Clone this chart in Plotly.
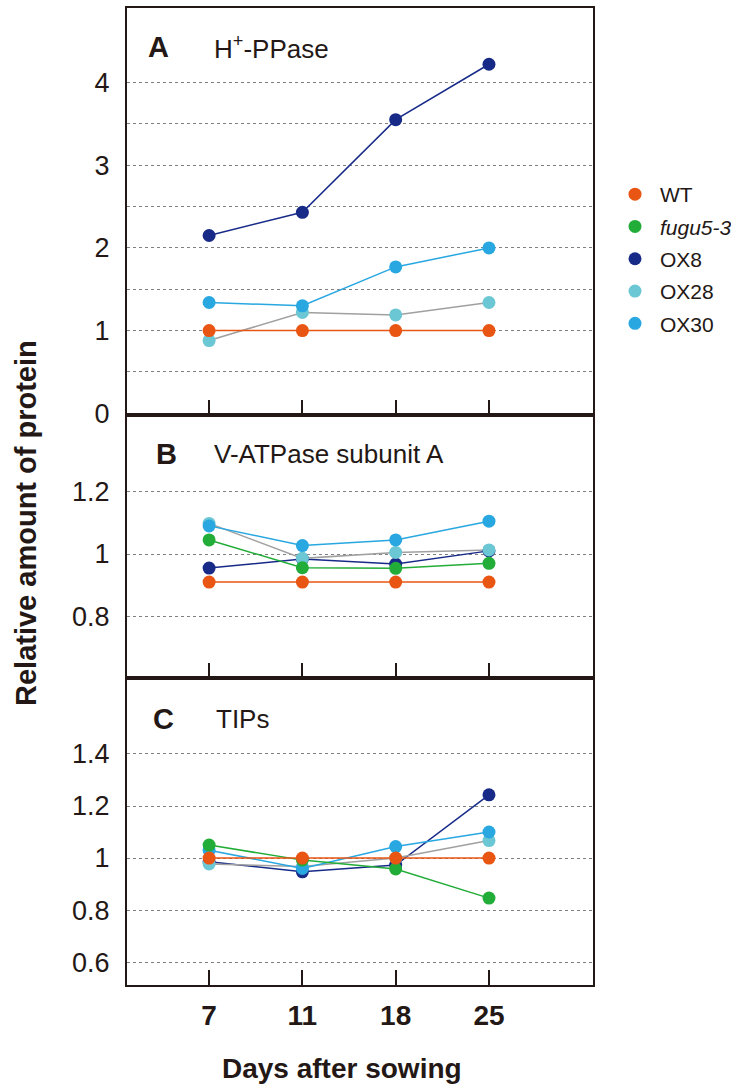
import plotly.graph_objects as go

days = ["7", "11", "18", "25"]
series = ["WT", "fugu5-3", "OX8", "OX28", "OX30"]
series_labels = {"WT": "WT", "fugu5-3": "<i>fugu5-3</i>", "OX8": "OX8",
                 "OX28": "OX28", "OX30": "OX30"}

# Panel A: H+-PPase (fugu5-3 not shown)
a_wt = [1.0, 1.0, 1.0, 1.0]
a_fugu = None
a_ox8 = [2.15, 2.43, 3.55, 4.22]
a_ox28 = [0.88, 1.22, 1.19, 1.34]
a_ox30 = [1.34, 1.30, 1.77, 2.00]

# Panel B: V-ATPase subunit A
b_wt = [0.91, 0.91, 0.91, 0.91]
b_fugu = [1.045, 0.956, 0.954, 0.97]
b_ox8 = [0.955, 0.984, 0.968, 1.01]
b_ox28 = [1.098, 0.986, 1.005, 1.013]
b_ox30 = [1.09, 1.027, 1.045, 1.105]

# Panel C: TIPs
c_wt = [1.0, 1.0, 1.0, 1.0]
c_fugu = [1.05, 0.992, 0.958, 0.846]
c_ox8 = [0.986, 0.947, 0.973, 1.243]
c_ox28 = [0.977, 0.967, 1.0, 1.067]
c_ox30 = [1.03, 0.96, 1.044, 1.10]

a_ticks = [0, 1, 2, 3, 4]
a_minor = [0.5, 1.5, 2.5, 3.5]
b_ticks = [0.8, 1.0, 1.2]
b_ticktext = ["0.8", "1", "1.2"]
c_ticks = [0.6, 0.8, 1.0, 1.2, 1.4]
c_ticktext = ["0.6", "0.8", "1", "1.2", "1.4"]

panel_titles = ["H<sup>+</sup>-PPase", "V-ATPase subunit A", "TIPs"]
panel_letters = ["A", "B", "C"]

marker_colors = {"WT": "#E95513", "fugu5-3": "#22AC38", "OX8": "#172A88",
                 "OX28": "#6CC7D4", "OX30": "#28A7E1"}
line_colors = {"WT": "#E95513", "fugu5-3": "#22AC38", "OX8": "#172A88",
               "OX28": "#A0A0A0", "OX30": "#28A7E1"}

panels = [
    {"WT": a_wt, "fugu5-3": a_fugu, "OX8": a_ox8, "OX28": a_ox28, "OX30": a_ox30},
    {"WT": b_wt, "fugu5-3": b_fugu, "OX8": b_ox8, "OX28": b_ox28, "OX30": b_ox30},
    {"WT": c_wt, "fugu5-3": c_fugu, "OX8": c_ox8, "OX28": c_ox28, "OX30": c_ox30},
]

W, H = 731, 1084
L, R, T, B = 127, 593, 8, 985
TXT = "#231815"
GRID = "#808080"
FONT = "Liberation Sans, Arial, Helvetica, sans-serif"

def px_x(x):
    return (x - L) / (R - L)

def px_y(y):
    return (B - y) / (B - T)

fig = go.Figure()

draw_order = ["OX8", "OX28", "OX30", "fugu5-3", "WT"]
for i, data in enumerate(panels):
    xa = "x" if i == 0 else f"x{i+1}"
    ya = "y" if i == 0 else f"y{i+1}"
    for name in draw_order:
        vals = data[name]
        if vals is None:
            continue
        fig.add_trace(go.Scatter(x=days, y=vals, mode="lines",
                                 line=dict(color=line_colors[name], width=1.5),
                                 xaxis=xa, yaxis=ya, showlegend=False,
                                 legendgroup=name, hoverinfo="skip"))
    for name in draw_order:
        vals = data[name]
        if vals is None:
            continue
        fig.add_trace(go.Scatter(x=days, y=vals, mode="markers",
                                 marker=dict(color=marker_colors[name], size=13),
                                 xaxis=xa, yaxis=ya, name=series_labels[name],
                                 showlegend=False, legendgroup=name,
                                 legendrank=series.index(name) + 1))

# one legend entry per series (markers only)
seen = set()
for tr in fig.data:
    if tr.mode == "markers" and tr.legendgroup not in seen:
        tr.showlegend = True
        seen.add(tr.legendgroup)

domains = [[px_y(415), 1.0], [px_y(678), px_y(415)], [0.0, px_y(678)]]
yranges = [[-0.02, 4.9], [0.603, 1.445], [0.512, 1.692]]

layout = dict(
    width=W, height=H,
    margin=dict(l=L, r=W - R, t=T, b=H - B, pad=0, autoexpand=False),
    paper_bgcolor="white", plot_bgcolor="white",
    font=dict(family=FONT, color=TXT),
    legend=dict(x=px_x(610), y=px_y(174), xanchor="left", yanchor="top",
                font=dict(size=21, color=TXT), tracegroupgap=2, itemwidth=40,
                bgcolor="rgba(0,0,0,0)", borderwidth=0),
)

for i in range(3):
    xk = "xaxis" if i == 0 else f"xaxis{i+1}"
    yk = "yaxis" if i == 0 else f"yaxis{i+1}"
    ya = "y" if i == 0 else f"y{i+1}"
    xa = "x" if i == 0 else f"x{i+1}"
    layout[xk] = dict(
        domain=[0, 1], anchor=ya, type="category",
        categoryorder="array", categoryarray=days,
        range=[-0.88, 4.115],
        showline=True, mirror=True, linewidth=2, linecolor=TXT,
        ticks="inside", ticklen=15, tickwidth=2, tickcolor=TXT,
        showgrid=False, zeroline=False,
        showticklabels=(i == 2),
        tickfont=dict(size=28, weight="bold", color=TXT, family=FONT),
        ticklabelstandoff=4,
    )
    ydict = dict(
        domain=domains[i], anchor=xa, range=yranges[i],
        tickmode="array",
        showline=True, mirror=True, linewidth=2, linecolor=TXT,
        ticks="", showgrid=True, gridcolor=GRID, gridwidth=1,
        griddash="3px,3px", zeroline=False,
        tickfont=dict(size=27, color=TXT, family=FONT),
        ticklabelstandoff=10,
    )
    if i == 0:
        ydict["tickvals"] = a_ticks
        ydict["minor"] = dict(tickmode="array", tickvals=a_minor, showgrid=True,
                              gridcolor=GRID, gridwidth=1, griddash="3px,3px",
                              ticks="")
    elif i == 1:
        ydict["tickvals"] = b_ticks
        ydict["ticktext"] = b_ticktext
    else:
        ydict["tickvals"] = c_ticks
        ydict["ticktext"] = c_ticktext
    layout[yk] = ydict

annotations = []
letter_pos = [(158, 47), (166, 454), (163, 719)]
title_pos = [(212, 47), (212, 454), (214, 719)]
for i in range(3):
    lx, ly = letter_pos[i]
    annotations.append(dict(x=px_x(lx), y=px_y(ly), xref="paper", yref="paper",
                            text=f"<b>{panel_letters[i]}</b>", showarrow=False,
                            xanchor="center", yanchor="middle",
                            font=dict(size=29, color=TXT, family=FONT)))
    tx, ty = title_pos[i]
    annotations.append(dict(x=px_x(tx), y=px_y(ty), xref="paper", yref="paper",
                            text=panel_titles[i], showarrow=False,
                            xanchor="left", yanchor="middle",
                            font=dict(size=26, color=TXT, family=FONT)))

annotations.append(dict(x=px_x(26), y=px_y(523), xref="paper", yref="paper",
                        text="<b>Relative amount of protein</b>", showarrow=False,
                        textangle=-90, xanchor="center", yanchor="middle",
                        font=dict(size=29, color=TXT, family=FONT)))
annotations.append(dict(x=px_x(342), y=px_y(1068), xref="paper", yref="paper",
                        text="<b>Days after sowing</b>", showarrow=False,
                        xanchor="center", yanchor="middle",
                        font=dict(size=28, color=TXT, family=FONT)))
layout["annotations"] = annotations

fig.update_layout(**layout)
fig.write_html("out.html")
